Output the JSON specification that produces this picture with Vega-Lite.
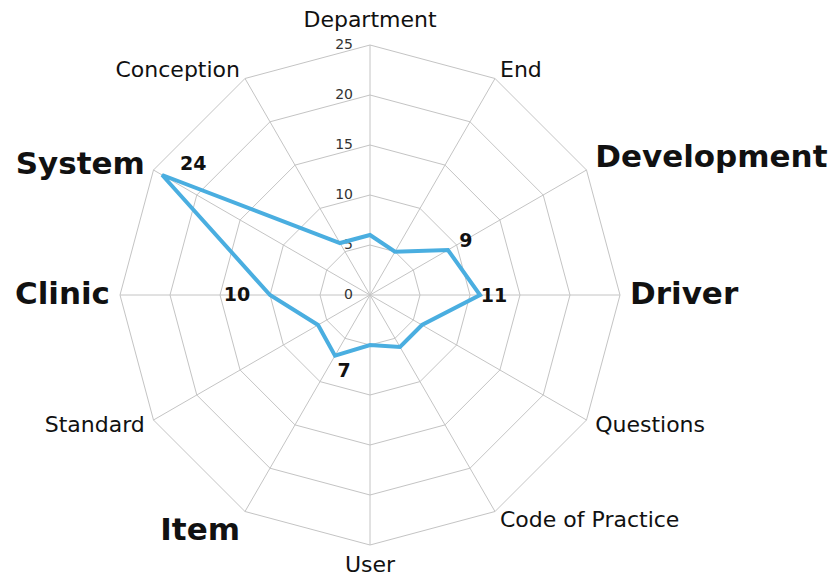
{
  "$schema": "https://vega.github.io/schema/vega-lite/v6.json",
  "width": 500,
  "height": 500,
  "autosize": {"type": "none"},
  "padding": {"left": 120, "top": 45, "right": 219, "bottom": 34},
  "background": "white",
  "config": {"view": {"stroke": null}, "font": "DejaVu Sans"},
  "datasets": {
    "axes": [
      {"axis": "Department", "i": 0, "value": 6},
      {"axis": "End", "i": 1, "value": 5},
      {"axis": "Development", "i": 2, "value": 9},
      {"axis": "Driver", "i": 3, "value": 11},
      {"axis": "Questions", "i": 4, "value": 6},
      {"axis": "Code of Practice", "i": 5, "value": 6},
      {"axis": "User", "i": 6, "value": 5},
      {"axis": "Item", "i": 7, "value": 7},
      {"axis": "Standard", "i": 8, "value": 6},
      {"axis": "Clinic", "i": 9, "value": 10},
      {"axis": "System", "i": 10, "value": 24},
      {"axis": "Conception", "i": 11, "value": 6}
    ],
    "rings": [
      {"ring": 5, "i": [0,1,2,3,4,5,6,7,8,9,10,11]},
      {"ring": 10, "i": [0,1,2,3,4,5,6,7,8,9,10,11]},
      {"ring": 15, "i": [0,1,2,3,4,5,6,7,8,9,10,11]},
      {"ring": 20, "i": [0,1,2,3,4,5,6,7,8,9,10,11]},
      {"ring": 25, "i": [0,1,2,3,4,5,6,7,8,9,10,11]}
    ],
    "ticks": [
      {"tick": 0}, {"tick": 5}, {"tick": 10}, {"tick": 15}, {"tick": 20}, {"tick": 25}
    ]
  },
  "encoding": {
    "x": {"field": "x", "type": "quantitative", "scale": {"domain": [-25, 25], "nice": false, "zero": false}, "axis": null},
    "y": {"field": "y", "type": "quantitative", "scale": {"domain": [-25, 25], "nice": false, "zero": false}, "axis": null}
  },
  "layer": [
    {
      "data": {"name": "rings"},
      "transform": [
        {"flatten": ["i"]},
        {"calculate": "datum.ring * sin(datum.i * PI / 6)", "as": "x"},
        {"calculate": "datum.ring * cos(datum.i * PI / 6)", "as": "y"}
      ],
      "mark": {"type": "line", "interpolate": "linear-closed", "stroke": "#c4c4c4", "strokeWidth": 1},
      "encoding": {
        "detail": {"field": "ring", "type": "nominal"},
        "order": {"field": "i", "type": "quantitative"}
      }
    },
    {
      "data": {"name": "axes"},
      "transform": [
        {"calculate": "0", "as": "x"},
        {"calculate": "0", "as": "y"},
        {"calculate": "25 * sin(datum.i * PI / 6)", "as": "x2"},
        {"calculate": "25 * cos(datum.i * PI / 6)", "as": "y2"}
      ],
      "mark": {"type": "rule", "stroke": "#c4c4c4", "strokeWidth": 1},
      "encoding": {
        "x2": {"field": "x2"},
        "y2": {"field": "y2"}
      }
    },
    {
      "data": {"name": "ticks"},
      "transform": [
        {"calculate": "0", "as": "x"},
        {"calculate": "datum.tick", "as": "y"}
      ],
      "mark": {"type": "text", "align": "right", "baseline": "middle", "dx": -17, "fontSize": 14, "color": "#333333"},
      "encoding": {"text": {"field": "tick", "type": "quantitative"}}
    },
    {
      "data": {"name": "axes"},
      "transform": [
        {"calculate": "datum.value * sin(datum.i * PI / 6)", "as": "x"},
        {"calculate": "datum.value * cos(datum.i * PI / 6)", "as": "y"}
      ],
      "mark": {"type": "line", "interpolate": "linear-closed", "stroke": "#4aaee0", "strokeWidth": 4, "strokeJoin": "miter"},
      "encoding": {"order": {"field": "i", "type": "quantitative"}}
    },
    {
      "data": {"name": "axes"},
      "transform": [
        {"calculate": "26 * sin(datum.i * PI / 6)", "as": "x"},
        {"calculate": "26 * cos(datum.i * PI / 6)", "as": "y"}
      ],
      "mark": {
        "type": "text",
        "color": "#111111",
        "align": {"expr": "datum.i == 0 || datum.i == 6 ? 'center' : (datum.i < 6 ? 'left' : 'right')"},
        "baseline": {"expr": "datum.i == 0 ? 'bottom' : (datum.i == 6 ? 'top' : 'middle')"},
        "fontSize": {"expr": "datum.value >= 7 ? 31 : 22"},
        "fontWeight": {"expr": "datum.value >= 7 ? 'bold' : 'normal'"},
        "dy": {"expr": "datum.i == 2 ? -7 : (datum.i == 7 ? 11 : (datum.i == 0 ? -3 : 0))"}
      },
      "encoding": {"text": {"field": "axis", "type": "nominal"}}
    },
    {
      "data": {"name": "axes"},
      "transform": [
        {"filter": "datum.value >= 7"},
        {"calculate": "datum.value * sin(datum.i * PI / 6)", "as": "x"},
        {"calculate": "datum.value * cos(datum.i * PI / 6)", "as": "y"}
      ],
      "mark": {
        "type": "text",
        "color": "#111111",
        "fontSize": 19,
        "fontWeight": "bold",
        "align": "center",
        "baseline": "middle",
        "dx": {"expr": "datum.i == 10 ? 31 : (datum.i == 2 ? 18 : (datum.i == 3 ? 14 : (datum.i == 9 ? -33 : 9)))"},
        "dy": {"expr": "datum.i == 10 ? -11 : (datum.i == 2 ? -9 : (datum.i == 3 ? 1 : (datum.i == 9 ? 0 : 15)))"}
      },
      "encoding": {"text": {"field": "value", "type": "quantitative"}}
    }
  ]
}
